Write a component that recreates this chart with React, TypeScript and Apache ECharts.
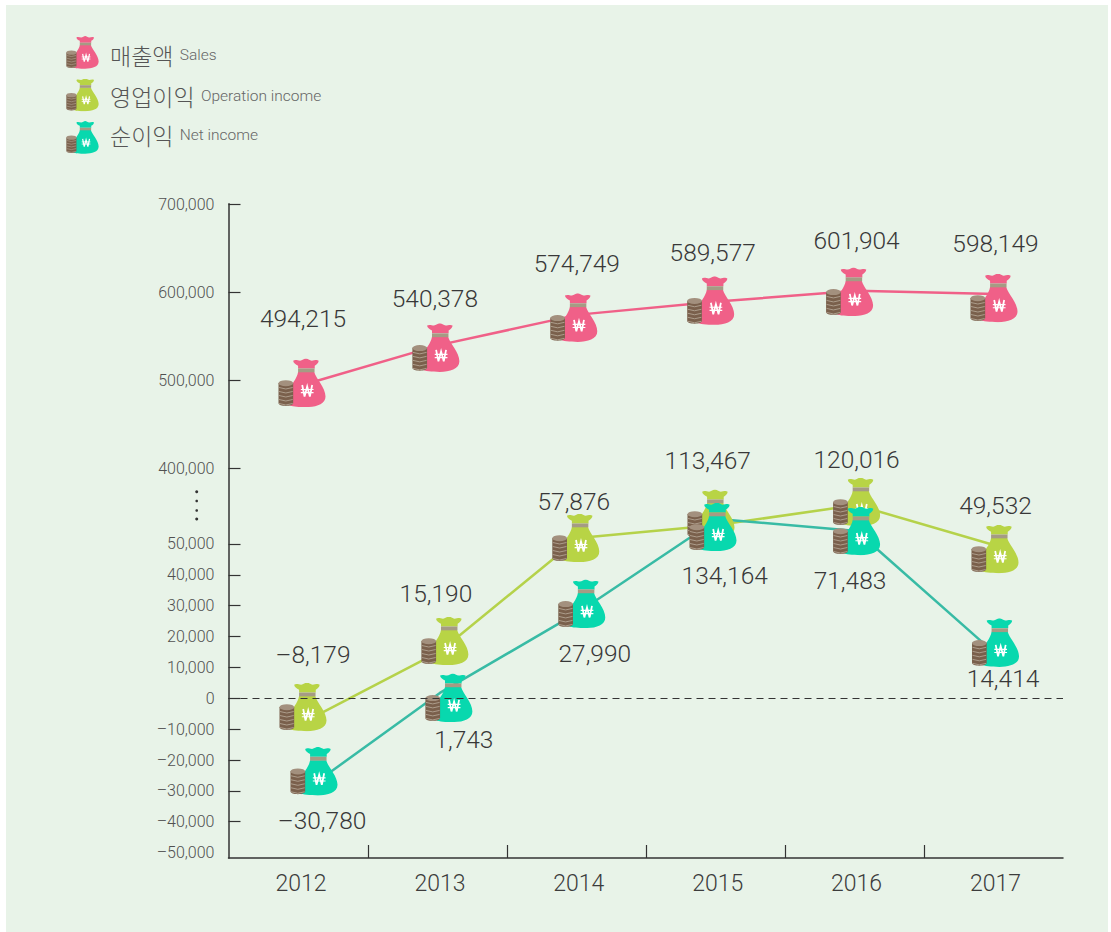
import React, { useEffect, useRef } from "react";
import * as echarts from "echarts";

// ---- data ----
const years = [2012, 2013, 2014, 2015, 2016, 2017];
const salesValues = [494215, 540378, 574749, 589577, 601904, 598149];
const operationValues = [-8179, 15190, 57876, 113467, 120016, 49532];
const netValues = [-30780, 1743, 27990, 134164, 71483, 14414];
// The lower scale is broken above 50,000: heights at which the picture draws each point on it.
const operationDrawn = [-8179, 15190, 51944, 56157, 62637, 49532];
const netDrawn = [-30780, 1743, 27990, 58100, 54200, 14414];

const upperTicks = [400000, 500000, 600000, 700000];
const lowerLabels = [50000, 40000, 30000, 20000, 10000, 0, -10000, -20000, -30000, -40000, -50000];
const lowerTicks = [50000, 40000, 30000, 20000, 10000, 0, -10000, -20000, -30000, -40000];
const yearDividers = [2012.485, 2013.485, 2014.485, 2015.485, 2016.485];

// ---- decoration offsets (px from the data point) ----
const salesIcon = [[1, -2.5], [-4, 3], [-5, 3.2], [-7, -0.8], [-7, 1.2], [-1.5, 4]];
const salesLabel = [[2, -66.5], [-5, -46], [-2, -51], [-5, -49], [0, -50], [0, -51]];
const opIcon = [[2, -16.5], [5, -10.4], [-3, 0], [-6.7, -11], [0, -3], [-0.5, 3.6]];
const opLabel = [[12, -69.5], [-4, -58.4], [-5, -37], [-10, -64], [0, -46], [0, -40]];
const netIcon = [[13, -22], [9, 5], [3, -8], [-4.7, 8], [0, 0], [0, -11]];
const netLabel = [[21, 27], [24, 47], [16, 42], [7, 56], [-6.6, 49], [7.5, 25]];

const fmt = (v: number) => (v < 0 ? "–" : "") + Math.abs(v).toLocaleString("en-US");

function bagIcon(color: string) {
  const stripes = [29, 33, 37, 41, 45]
    .map((y) => `<path d="M0.5 ${y} Q7.5 ${y + 3} 14.5 ${y}" fill="none" stroke="#b3a493" stroke-width="0.9"/>`)
    .join("");
  const svg = `<svg xmlns="http://www.w3.org/2000/svg" width="96" height="98" viewBox="0 0 48 49">
<path fill="${color}" d="M15 2.2C17 .8 20 2.2 22 2.2 24 1.8 26.5 0 28 0 29.5 0 32 1.8 34 2.2 36 2.2 39 .8 41 2.2 41 4.2 39 6 37 7.2L37 10 20 10 20 7.2C17.5 6 15 4.2 15 2.2Z"/>
<path fill="${color}" d="M20 13.5L36.5 13.5C38 20 48 29 48 38 48 46 38 48.6 28 48.6 20 48.6 12 48 10 46 8 44 8 36 10 32 13 26 19 20 20 13.5Z"/>
<rect x="20" y="10" width="16.8" height="3.8" fill="#a59b84"/>
<path d="M24.2 26.5L26.6 38 29.3 28 32 38 34.4 26.5" fill="none" stroke="#fff" stroke-width="1.8"/>
<path d="M22.8 31H35.8M22.8 34.2H35.8" fill="none" stroke="#fff" stroke-width="1.2"/>
<path fill="#7a604c" d="M0 24.5H15V44.5C15 46.4 11.6 47.4 7.5 47.4 3.4 47.4 0 46.4 0 44.5Z"/>
${stripes}
<ellipse cx="7.5" cy="24.7" rx="7.5" ry="3" fill="#a3907e"/>
</svg>`;
  return "image://data:image/svg+xml;charset=utf-8," + encodeURIComponent(svg);
}

const SALES = "#f06088";
const OP = "#b8d445";
const OP_LINE = "#b5d24a";
const NET = "#08d8ae";
const NET_LINE = "#38bba5";

const fontFamily = "Roboto, 'Noto Sans', sans-serif";
const koFont = "'Noto Sans CJK KR', sans-serif";

function makeSeries(
  name: string,
  drawn: number[],
  shown: number[],
  axis: number,
  lineColor: string,
  icon: string,
  iconOff: number[][],
  labelOff: number[][],
  z: number,
  extra: object = {}
) {
  return [
    {
      type: "line",
      name: name + " line",
      xAxisIndex: 0,
      yAxisIndex: axis,
      z: 2,
      clip: false,
      symbol: "circle",
      symbolSize: 1,
      showSymbol: true,
      showAllSymbol: true,
      itemStyle: { color: "rgba(0,0,0,0)" },
      lineStyle: { color: lineColor, width: 2.5 },
      label: {
        show: true,
        position: "inside",
        color: "#383838",
        fontFamily,
        fontWeight: 300,
        fontSize: 24.5,
        formatter: (p: any) => fmt(shown[p.dataIndex]),
      },
      data: drawn.map((v, i) => ({ value: [years[i], v], label: { offset: labelOff[i] } })),
      ...extra,
    },
    {
      type: "scatter",
      name,
      xAxisIndex: 0,
      yAxisIndex: axis,
      z,
      clip: false,
      symbol: icon,
      symbolSize: [48, 49],
      silent: true,
      itemStyle: { opacity: 1 },
      data: drawn.map((v, i) => ({ value: [years[i], v], symbolOffset: iconOff[i] })),
    },
  ];
}

const sideAxis = {
  type: "value",
  position: "left",
  splitLine: { show: false },
};

export default function App() {
  const ref = useRef<HTMLDivElement>(null);
  useEffect(() => {
    const chart = echarts.init(ref.current!, undefined, { renderer: "svg" });
    const salesBag = bagIcon(SALES);
    const opBag = bagIcon(OP);
    const netBag = bagIcon(NET);
    chart.setOption({
      animation: false,
      backgroundColor: "#ffffff",
      grid: { left: 228.5, top: 203.7, width: 834.5, height: 654.3, containLabel: false },
      legend: {
        show: true,
        selectedMode: false,
        orient: "vertical",
        left: 63,
        top: 36,
        padding: 0,
        itemWidth: 39,
        itemHeight: 33,
        itemGap: 9.5,
        formatter: (n: string) =>
          `{ko|${n}} {en|${n === "매출액" ? "Sales" : n === "영업이익" ? "Operation income" : "Net income"}}`,
        textStyle: {
          rich: {
            ko: { fontFamily: koFont, fontSize: 23, fontWeight: 300, color: "#555" },
            en: { fontFamily, fontSize: 15.5, fontWeight: 300, color: "#666", padding: [0, 0, 0, 3] },
          },
        },
        data: [
          { name: "매출액", icon: salesBag, itemStyle: { opacity: 1 }, textStyle: { padding: [5, 0, 0, 3] } },
          { name: "영업이익", icon: opBag, itemStyle: { opacity: 1 }, textStyle: { padding: [2, 0, 0, 3] } },
          { name: "순이익", icon: netBag, itemStyle: { opacity: 1 }, textStyle: { padding: [0, 0, 6, 3] } },
        ],
      },
      xAxis: {
        type: "value",
        min: 2011.478,
        max: 2017.486,
        splitLine: { show: false },
        axisLine: { show: true, onZero: false, lineStyle: { color: "#333", width: 1.5 } },
        axisTick: {
          show: true,
          inside: true,
          length: 13,
          customValues: yearDividers,
          lineStyle: { color: "#333", width: 1.2 },
        },
        axisLabel: {
          customValues: years,
          margin: 14,
          color: "#3c3c3c",
          fontFamily,
          fontWeight: 300,
          fontSize: 23,
          formatter: (v: number) => String(v),
        },
      },
      yAxis: [
        {
          ...sideAxis,
          min: -42728,
          max: 700795,
          axisLine: { show: true, onZero: false, lineStyle: { color: "#333", width: 1.5 } },
          axisTick: { show: true, inside: true, length: 12, customValues: upperTicks, lineStyle: { color: "#333", width: 1.2 } },
          axisLabel: {
            customValues: upperTicks,
            margin: 14,
            color: "#505050",
            fontFamily,
            fontWeight: 300,
            fontSize: 16,
            formatter: (v: number) => fmt(v),
          },
        },
        {
          ...sideAxis,
          min: -51750,
          max: 160272,
          axisLine: { show: false, onZero: false },
          axisTick: { show: true, inside: true, length: 12, customValues: lowerTicks, lineStyle: { color: "#333", width: 1.2 } },
          axisLabel: {
            customValues: lowerLabels,
            margin: 14,
            color: "#505050",
            fontFamily,
            fontWeight: 300,
            fontSize: 16,
            formatter: (v: number) => fmt(v),
          },
        },
      ],
      graphic: [
        { type: "rect", z: -10, silent: true, shape: { x: 6, y: 5, width: 1102, height: 927 }, style: { fill: "#e8f3e8" } },
        { type: "circle", silent: true, shape: { cx: 196.7, cy: 491.7, r: 1.5 }, style: { fill: "#333" } },
        { type: "circle", silent: true, shape: { cx: 196.7, cy: 501, r: 1.3 }, style: { fill: "#333" } },
        { type: "circle", silent: true, shape: { cx: 196.7, cy: 510.5, r: 1.3 }, style: { fill: "#333" } },
        { type: "circle", silent: true, shape: { cx: 196.7, cy: 519, r: 1.5 }, style: { fill: "#333" } },
      ],
      series: [
        ...makeSeries("매출액", salesValues, salesValues, 0, SALES, salesBag, salesIcon, salesLabel, 3),
        ...makeSeries("영업이익", operationDrawn, operationValues, 1, OP_LINE, opBag, opIcon, opLabel, 3, {
          markLine: {
            silent: true,
            symbol: "none",
            label: { show: false },
            lineStyle: { color: "#333", type: [7, 5], width: 1 },
            data: [{ yAxis: 0 }],
          },
        }),
        ...makeSeries("순이익", netDrawn, netValues, 1, NET_LINE, netBag, netIcon, netLabel, 4),
      ],
    });
    return () => chart.dispose();
  }, []);
  return <div ref={ref} style={{ position: "fixed", left: 0, top: 0, width: 1111, height: 932 }} />;
}
